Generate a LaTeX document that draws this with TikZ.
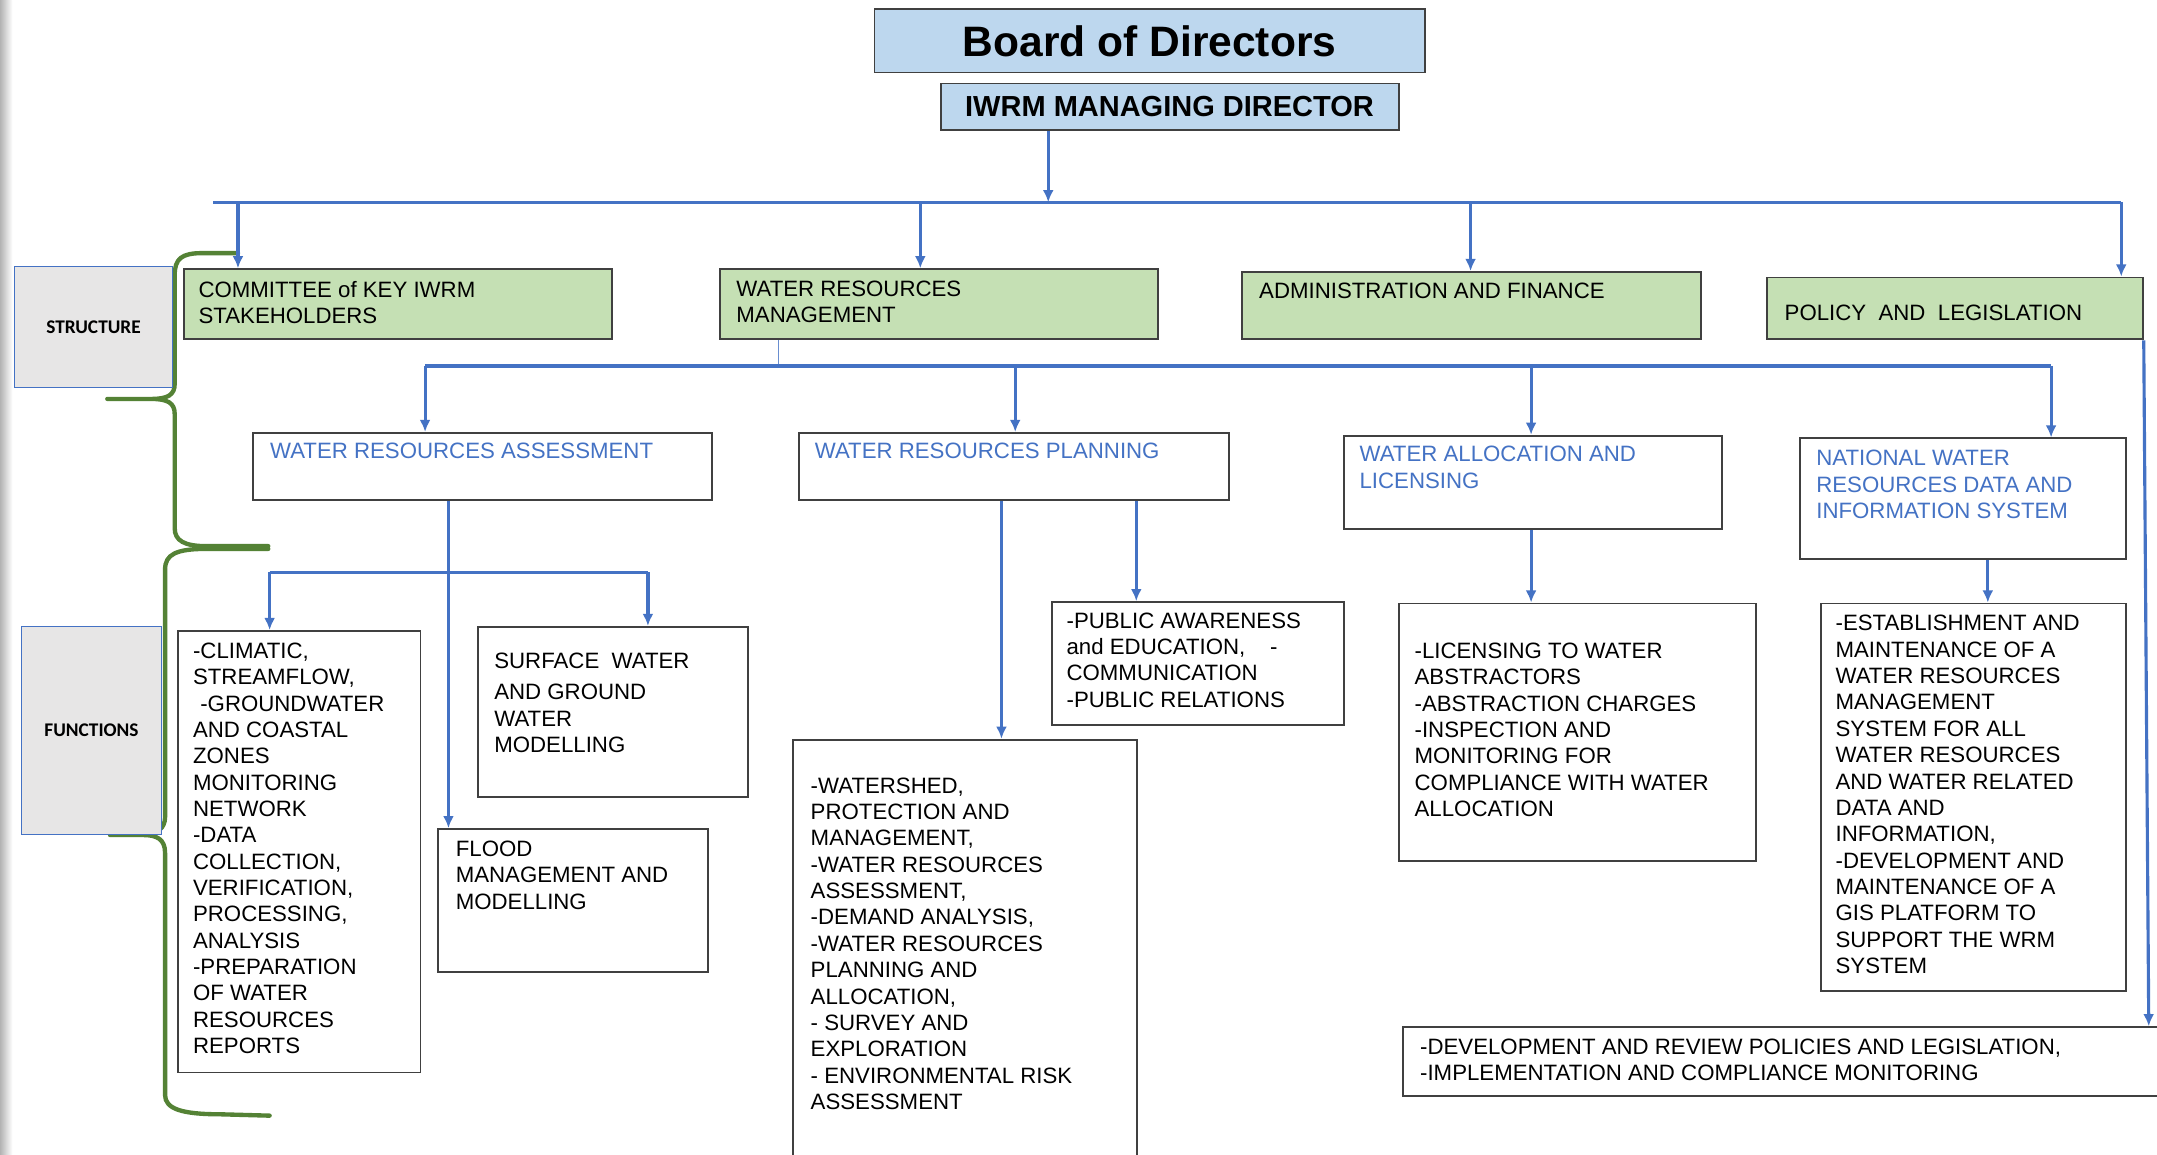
\documentclass[tikz,border=0pt]{standalone}
\usepackage{fontspec}
\setmainfont{Liberation Sans}
\newfontfamily\tagfont{Carlito}
\usetikzlibrary{positioning,arrows.meta,calc}
\definecolor{boardblue}{HTML}{BDD7EE}
\definecolor{unitgreen}{HTML}{C5E0B4}
\definecolor{linkblue}{HTML}{4472C4}
\definecolor{bracegreen}{HTML}{548235}
\definecolor{taggray}{HTML}{E7E6E6}
\tikzset{
	unit/.style={rectangle, draw=black!75, line width=0.8pt, anchor=north west, inner sep=0pt},
	board/.style={unit, fill=boardblue},
	dept/.style={unit, fill=unitgreen},
	sect/.style={unit, fill=white},
	tag/.style={rectangle, draw=linkblue, line width=0.6pt, fill=taggray, anchor=north west, inner sep=0pt, font=\tagfont\bfseries\fontsize{8}{9}\selectfont},
	txt/.style={anchor=north west, align=left, inner sep=0pt, font=\fontsize{9.2}{10.9}\selectfont},
	bluetxt/.style={txt, text=linkblue},
	connect/.style={-{Latex[length=5pt,width=4.5pt]}, line width=1.3pt, draw=linkblue},
	bus/.style={line width=1.3pt, draw=linkblue},
	curly/.style={draw=bracegreen, line width=1.8pt, line cap=round}
}

\begin{document}
\begin{tikzpicture}[x=0.02cm, y=-0.02cm]
\useasboundingbox (0,0) rectangle (1568,839);
\clip (0,0) rectangle (1568,839);
\fill[white] (0,0) rectangle (1568,839);
\shade[left color=black!30, right color=white] (0,0) rectangle (9,839);

% braces on the left
\draw[curly] (173,184) -- (147,184) .. controls (132,184) and (127,188) .. (127,200) -- (127,279) .. controls (127,287) and (122,290) .. (110,290) -- (78,290)
	(110,290) .. controls (122,290) and (127,293) .. (127,301) -- (127,384) .. controls (127,393) and (134,397) .. (150,397) -- (195,397);
\draw[curly] (195,399) -- (150,399) .. controls (128,399) and (120,403) .. (120,414) -- (120,594) .. controls (120,602) and (114,607) .. (104,607) -- (80,607)
	(104,607) .. controls (114,607) and (120,610) .. (120,620) -- (120,796) .. controls (120,806) and (132,810) .. (160,810) -- (196,811);

\node[tag, minimum width=2.3cm, minimum height=1.76cm] (structure) at (10,193) {STRUCTURE};
\node[tag, minimum width=2.04cm, minimum height=3.02cm] (functions) at (15,455) {FUNCTIONS};

% top
\node[board, minimum width=8cm, minimum height=0.92cm, font=\bfseries\fontsize{17.6}{20}\selectfont] (board) at (635,6) {Board of Directors};
\node[board, minimum width=6.66cm, minimum height=0.68cm, font=\bfseries\fontsize{12}{14}\selectfont] (md) at (683,60) {IWRM MANAGING DIRECTOR};

% departments
\node[dept, minimum width=6.22cm, minimum height=1.02cm] (committee) at (133,195) {};
\node[dept, minimum width=6.36cm, minimum height=1.02cm] (wrm) at (523,195) {};
\node[dept, minimum width=6.68cm, minimum height=0.98cm] (admin) at (902,197) {};
\node[dept, minimum width=5.46cm, minimum height=0.90cm] (policy) at (1284,201) {};
\node[txt] (committee-t) at ([shift={(11,9)}]committee.north west) {COMMITTEE of KEY IWRM\\STAKEHOLDERS};
\node[txt] (wrm-t) at ([shift={(12,9)}]wrm.north west) {WATER RESOURCES\\MANAGEMENT};
\node[txt] (admin-t) at ([shift={(13,8)}]admin.north west) {ADMINISTRATION AND FINANCE};
\node[txt] (policy-t) at ([shift={(13,20)}]policy.north west) {POLICY\ \ AND\ \ LEGISLATION};

% sections
\node[sect, minimum width=6.68cm, minimum height=0.98cm] (wra) at (183,314) {};
\node[sect, minimum width=6.26cm, minimum height=0.98cm] (wrp) at (580,314) {};
\node[sect, minimum width=5.50cm, minimum height=1.36cm] (wal) at (976,316) {};
\node[sect, minimum width=4.74cm, minimum height=1.76cm] (nwr) at (1308,318) {};
\node[bluetxt] (wra-t) at ([shift={(13,8)}]wra.north west) {WATER RESOURCES ASSESSMENT};
\node[bluetxt] (wrp-t) at ([shift={(12,8)}]wrp.north west) {WATER RESOURCES PLANNING};
\node[bluetxt] (wal-t) at ([shift={(12,8)}]wal.north west) {WATER ALLOCATION AND\\LICENSING};
\node[bluetxt] (nwr-t) at ([shift={(12,9)}]nwr.north west) {NATIONAL WATER\\RESOURCES DATA AND\\INFORMATION SYSTEM};

% functions
\node[sect, minimum width=3.52cm, minimum height=6.42cm] (climatic) at (129,458) {};
\node[sect, minimum width=3.92cm, minimum height=2.48cm] (surface) at (347,455) {};
\node[sect, minimum width=3.92cm, minimum height=2.08cm] (flood) at (318,602) {};
\node[sect, minimum width=4.24cm, minimum height=1.78cm] (public) at (764,437) {};
\node[sect, minimum width=5.00cm, minimum height=6.60cm] (watershed) at (576,537) {};
\node[sect, minimum width=5.20cm, minimum height=3.74cm] (licensing) at (1016,438) {};
\node[sect, minimum width=4.44cm, minimum height=5.64cm] (establish) at (1323,438) {};
\node[sect, minimum width=11.4cm, minimum height=1.00cm] (dev) at (1019,746) {};

\node[txt] (climatic-t) at ([shift={(11,9)}]climatic.north west) {-CLIMATIC,\\STREAMFLOW,\\\hspace*{3pt}-GROUNDWATER\\AND COASTAL\\ZONES\\MONITORING\\NETWORK\\-DATA\\COLLECTION,\\VERIFICATION,\\PROCESSING,\\ANALYSIS\\-PREPARATION\\OF WATER\\RESOURCES\\REPORTS};
\node[txt] (surface-t) at ([shift={(12,19)}]surface.north west) {SURFACE\ \ WATER\\[0.08cm]AND GROUND\\WATER\\MODELLING};
\node[txt] (flood-t) at ([shift={(13,9)}]flood.north west) {FLOOD\\MANAGEMENT AND\\MODELLING};
\node[txt] (public-t) at ([shift={(11,8)}]public.north west) {-PUBLIC AWARENESS\\and EDUCATION,\ \ \ \ -\\COMMUNICATION\\-PUBLIC RELATIONS};
\node[txt] (watershed-t) at ([shift={(13,28)}]watershed.north west) {-WATERSHED,\\PROTECTION AND\\MANAGEMENT,\\-WATER RESOURCES\\ASSESSMENT,\\-DEMAND ANALYSIS,\\-WATER RESOURCES\\PLANNING AND\\ALLOCATION,\\- SURVEY AND\\EXPLORATION\\- ENVIRONMENTAL RISK\\ASSESSMENT};
\node[txt] (licensing-t) at ([shift={(12,29)}]licensing.north west) {-LICENSING TO WATER\\ABSTRACTORS\\-ABSTRACTION CHARGES\\-INSPECTION AND\\MONITORING FOR\\COMPLIANCE WITH WATER\\ALLOCATION};
\node[txt] (establish-t) at ([shift={(11,9)}]establish.north west) {-ESTABLISHMENT AND\\MAINTENANCE OF A\\WATER RESOURCES\\MANAGEMENT\\SYSTEM FOR ALL\\WATER RESOURCES\\AND WATER RELATED\\DATA AND\\INFORMATION,\\-DEVELOPMENT AND\\MAINTENANCE OF A\\GIS PLATFORM TO\\SUPPORT THE WRM\\SYSTEM};
\node[txt] (dev-t) at ([shift={(13,9)}]dev.north west) {-DEVELOPMENT AND REVIEW POLICIES AND LEGISLATION,\\-IMPLEMENTATION AND COMPLIANCE MONITORING};

% first bus
\coordinate (busW) at (155,147);
\coordinate (busE) at (1542,147);
\coordinate (busMD) at (762,147);
\draw[bus] (busW) -- (busE);
\draw[connect] (md.south -| busMD) -- (busMD);
\foreach \c/\n in {173/committee, 669/wrm, 1069/admin, 1542/policy}{
	\coordinate (top-\n) at (\c,147);
	\draw[connect] (top-\n) -- (top-\n |- \n.north);
}

% second bus
\coordinate (bus2W) at (309,266);
\coordinate (bus2E) at (1491,266);
\coordinate (bus2K) at (566,266);
\draw[linkblue!80, line width=0.6pt] (wrm.south -| bus2K) -- (bus2K);
\draw[bus] (bus2W) -- (bus2E);
\foreach \c/\n in {309/wra, 738/wrp, 1113/wal, 1491/nwr}{
	\coordinate (top-\n) at (\c,266);
	\draw[connect] (top-\n) -- (top-\n |- \n.north);
}

% functions links
\coordinate (c-flood) at (326,416);
\coordinate (brW) at (196,416);
\coordinate (brE) at (471,416);
\draw[connect] (wra.south -| c-flood) -- (flood.north -| c-flood);
\draw[bus] (brW) -- (brE);
\draw[connect] (brW) -- (brW |- climatic.north);
\draw[connect] (brE) -- (brE |- surface.north);
\foreach \c/\a/\b in {728/wrp/watershed, 826/wrp/public, 1113/wal/licensing, 1445/nwr/establish}{
	\coordinate (col-\b) at (\c,0);
	\draw[connect] (\a.south -| col-\b) -- (\b.north -| col-\b);
}
\coordinate (col-dev) at (1562,0);
\draw[connect] (policy.south east) -- (dev.north -| col-dev);
\end{tikzpicture}
\end{document}
